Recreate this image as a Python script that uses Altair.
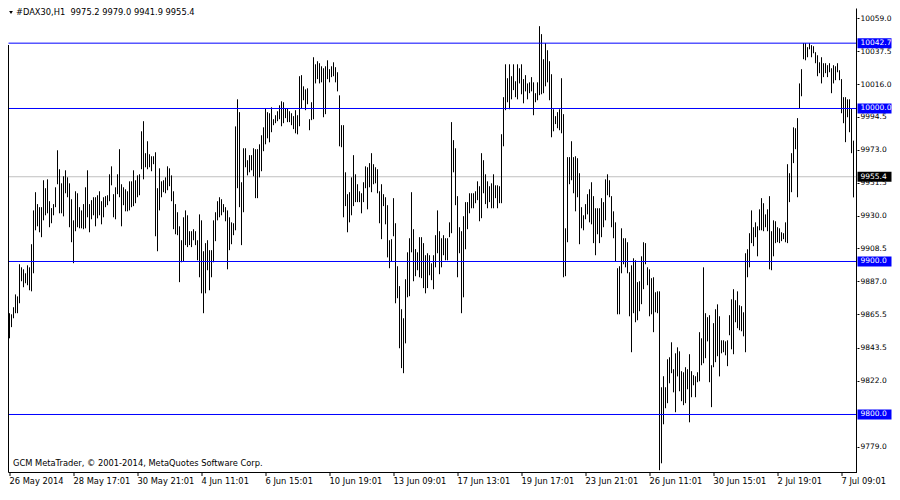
import altair as alt
import pandas as pd

# ---- data (DAX30 H1 bars: high / low) ----
highs = [
    9866.2, 9865.5, 9870.1, 9878.5, 9877.2, 9898.2, 9896.2, 9894.9, 9892.3, 9897.5,
    9896.2, 9911.3, 9933.4, 9945.3, 9937.5, 9935.5, 9935.5, 9953.1, 9947.9, 9953.7,
    9939.4, 9934.9, 9937.5, 9948.5, 9972.7, 9960.3, 9951.1, 9955.7, 9959.6, 9955.0,
    9951.1, 9940.7, 9926.9, 9945.9, 9944.6, 9935.5, 9933.4, 9937.5, 9948.5, 9959.6,
    9937.5, 9940.1, 9942.0, 9942.0, 9943.3, 9945.9, 9939.4, 9942.0, 9942.7, 9943.3,
    9957.0, 9962.2, 9944.0, 9948.5, 9957.0, 9973.4, 9950.5, 9948.5, 9947.2, 9945.9,
    9952.4, 9952.4, 9959.6, 9953.1, 9956.3, 9957.0, 9985.1, 9991.7, 9970.8, 9978.6,
    9970.1, 9968.8, 9968.8, 9971.4, 9947.9, 9960.9, 9952.4, 9953.1, 9955.0, 9962.2,
    9960.9, 9956.3, 9945.9, 9937.5, 9932.2, 9923.0, 9913.9, 9928.9, 9933.4, 9930.2,
    9919.8, 9919.8, 9921.1, 9919.8, 9913.9, 9930.8, 9926.9, 9906.7, 9912.0, 9913.9,
    9907.4, 9907.4, 9926.9, 9932.2, 9939.4, 9942.0, 9940.7, 9937.5, 9935.5, 9933.4,
    9928.9, 9925.6, 9925.0, 9988.3, 10006.0, 9997.6, 9951.8, 9974.0, 9974.0, 9966.2,
    9969.5, 9969.5, 9974.0, 9973.4, 9973.4, 9976.6, 9982.5, 9987.7, 10000.2, 9997.6,
    9996.9, 10000.8, 9993.0, 9995.6, 9998.2, 10002.1, 10004.7, 10004.1, 10000.2, 10000.2,
    9998.2, 9996.9, 9995.0, 9998.9, 9995.6, 10021.1, 10021.8, 10014.5, 10012.5, 10013.2,
    9993.0, 10004.1, 10033.5, 10028.9, 10030.9, 10029.6, 10027.6, 10026.3, 10027.6, 10031.5,
    10025.7, 10027.6, 10030.2, 10027.0, 10023.7, 10008.6, 9989.1, 9989.1, 9958.3, 9944.0,
    9945.3, 9955.0, 9969.5, 9957.0, 9950.5, 9945.9, 9944.6, 9951.8, 9962.2, 9961.6,
    9964.3, 9970.8, 9963.6, 9961.6, 9960.3, 9945.9, 9950.5, 9944.0, 9942.0, 9936.8,
    9913.9, 9914.6, 9941.4, 9925.0, 9896.9, 9883.9, 9868.8, 9862.9, 9888.4, 9906.0,
    9915.2, 9945.3, 9921.1, 9908.1, 9906.0, 9915.9, 9915.9, 9912.0, 9904.1, 9905.4,
    9904.1, 9898.8, 9904.1, 9917.2, 9933.4, 9919.8, 9915.2, 9917.2, 9915.2, 9915.2,
    9925.6, 9991.1, 9979.3, 9974.0, 9942.7, 9922.4, 9919.8, 9929.6, 9938.8, 9938.8,
    9944.6, 9944.6, 9944.6, 9945.9, 9952.4, 9949.2, 9970.8, 9966.2, 9957.0, 9952.4,
    9949.2, 9951.1, 9957.0, 9949.8, 9949.8, 9949.2, 9983.2, 10007.4, 10028.9, 10019.8,
    10028.9, 10021.1, 10028.9, 10017.8, 10028.9, 10026.3, 10028.9, 10019.2, 10021.8, 10016.4,
    10017.1, 10020.5, 10017.1, 10010.0, 10017.1, 10053.8, 10048.6, 10032.2, 10042.7, 10038.1,
    10030.9, 10022.4, 9999.5, 9995.0, 9997.6, 9999.5, 10019.8, 9996.3, 9921.7, 9968.2,
    9968.2, 9978.6, 9968.2, 9968.8, 9967.5, 9957.7, 9935.5, 9930.2, 9937.5, 9944.0,
    9947.2, 9951.8, 9942.7, 9934.8, 9934.8, 9934.8, 9941.4, 9938.8, 9953.7, 9957.0,
    9953.1, 9942.7, 9932.8, 9925.6, 9895.6, 9896.9, 9921.7, 9915.2, 9915.2, 9912.6,
    9893.0, 9897.5, 9902.1, 9900.8, 9886.5, 9887.1, 9903.4, 9912.6, 9912.0, 9896.2,
    9894.9, 9889.1, 9889.7, 9879.9, 9880.5, 9880.5, 9817.8, 9825.0, 9817.8, 9836.1,
    9837.4, 9847.2, 9829.6, 9840.0, 9843.9, 9841.3, 9828.3, 9827.6, 9830.9, 9829.6,
    9839.4, 9828.3, 9825.7, 9825.0, 9827.6, 9853.8, 9849.8, 9896.2, 9866.2, 9863.6,
    9864.9, 9832.2, 9859.7, 9868.8, 9872.0, 9864.2, 9848.5, 9848.5, 9847.8, 9848.5,
    9864.9, 9875.3, 9881.9, 9874.7, 9880.5, 9871.4, 9870.8, 9866.8, 9905.4, 9908.0,
    9918.5, 9933.4, 9922.4, 9925.6, 9923.0, 9934.1, 9941.4, 9938.1, 9930.8, 9934.1,
    9942.7, 9919.8, 9926.9, 9926.3, 9922.4, 9921.7, 9919.1, 9918.5, 9925.6, 9963.6,
    9957.7, 9970.8, 9987.7, 9987.1, 9993.7, 10016.4, 10025.7, 10042.7, 10042.7, 10040.1,
    10042.7, 10041.4, 10040.7, 10036.8, 10034.8, 10030.2, 10033.5, 10029.6, 10029.6, 10028.3,
    10029.6, 10026.3, 10028.3, 10027.6, 10029.6, 10025.0, 10019.2, 10007.4, 10007.4, 10006.0,
    10006.0, 10000.2, 9979.0,
]

lows = [
    9849.8, 9857.1, 9862.9, 9866.2, 9866.2, 9872.7, 9887.1, 9883.2, 9885.8, 9884.5,
    9881.2, 9880.5, 9892.3, 9920.4, 9923.0, 9919.1, 9915.9, 9926.9, 9930.2, 9931.5,
    9922.4, 9925.0, 9930.2, 9935.5, 9950.5, 9931.5, 9931.5, 9929.5, 9944.6, 9942.0,
    9922.4, 9912.6, 9898.9, 9919.8, 9922.4, 9921.7, 9921.7, 9921.1, 9921.7, 9928.9,
    9919.1, 9927.6, 9930.2, 9923.0, 9928.2, 9930.2, 9924.3, 9928.9, 9935.5, 9936.8,
    9939.4, 9949.8, 9928.9, 9927.6, 9944.0, 9942.0, 9923.0, 9936.8, 9932.8, 9932.8,
    9933.4, 9935.5, 9936.2, 9938.1, 9942.0, 9943.3, 9960.3, 9953.7, 9961.6, 9960.3,
    9961.6, 9959.0, 9963.6, 9916.5, 9906.7, 9933.4, 9942.0, 9945.3, 9944.6, 9946.6,
    9949.2, 9939.4, 9921.1, 9917.8, 9917.2, 9886.5, 9899.5, 9900.1, 9910.7, 9909.4,
    9910.7, 9909.4, 9913.9, 9910.7, 9900.8, 9889.7, 9879.2, 9866.2, 9879.2, 9894.3,
    9881.2, 9889.7, 9899.5, 9913.3, 9926.9, 9928.9, 9930.2, 9932.2, 9926.3, 9894.9,
    9907.4, 9911.3, 9917.2, 9920.4, 9947.9, 9935.5, 9910.7, 9932.2, 9961.6, 9956.3,
    9958.3, 9959.6, 9955.7, 9941.4, 9941.4, 9955.0, 9959.0, 9972.1, 9976.6, 9980.5,
    9977.9, 9984.5, 9989.1, 9990.4, 9991.7, 9993.0, 9988.4, 9990.4, 9993.7, 9991.1,
    9991.1, 9989.1, 9986.5, 9983.8, 9983.1, 9988.4, 10000.2, 10005.4, 9998.9, 10002.8,
    9985.8, 9992.4, 9993.0, 10016.4, 10019.2, 10016.4, 10017.1, 9994.3, 9996.3, 10019.2,
    10017.1, 10020.5, 10021.1, 10017.1, 10011.2, 9975.3, 9974.7, 9928.9, 9936.2, 9919.1,
    9925.6, 9930.2, 9936.2, 9938.8, 9938.8, 9938.8, 9931.5, 9938.8, 9947.9, 9934.1,
    9948.5, 9945.3, 9950.5, 9951.1, 9944.6, 9925.0, 9914.6, 9936.2, 9924.3, 9902.7,
    9895.6, 9900.1, 9916.5, 9872.7, 9876.0, 9843.3, 9830.3, 9827.0, 9846.5, 9876.6,
    9877.3, 9906.0, 9887.1, 9890.4, 9894.3, 9889.7, 9889.1, 9882.6, 9879.2, 9882.6,
    9891.0, 9887.8, 9881.9, 9896.2, 9905.4, 9891.7, 9896.2, 9904.1, 9900.8, 9900.8,
    9915.9, 9918.5, 9958.3, 9936.8, 9889.7, 9905.4, 9866.2, 9876.6, 9908.0, 9921.1,
    9931.5, 9934.8, 9934.8, 9938.1, 9940.1, 9926.3, 9928.3, 9944.6, 9937.5, 9934.8,
    9938.8, 9934.8, 9934.8, 9941.4, 9934.8, 9938.1, 9938.1, 9975.3, 9998.9, 10004.1,
    9999.5, 10006.0, 10012.0, 10007.4, 10006.0, 10016.4, 10009.3, 10003.4, 10011.2, 10006.0,
    10010.0, 10011.2, 9995.6, 10004.1, 10005.4, 10008.7, 10009.3, 10010.0, 10014.5, 10017.1,
    10005.4, 9981.2, 9985.1, 9989.8, 9987.1, 9985.8, 9983.8, 9889.7, 9890.4, 9912.6,
    9950.5, 9953.1, 9944.6, 9932.8, 9942.0, 9911.3, 9921.7, 9920.4, 9927.6, 9930.8,
    9925.6, 9924.3, 9912.0, 9904.1, 9917.8, 9912.0, 9915.9, 9922.4, 9926.9, 9943.3,
    9942.0, 9922.4, 9915.2, 9900.1, 9865.5, 9865.5, 9892.3, 9898.2, 9896.2, 9892.3,
    9864.2, 9840.7, 9866.2, 9860.3, 9861.6, 9867.5, 9872.1, 9881.9, 9898.2, 9884.5,
    9864.2, 9865.5, 9853.8, 9866.8, 9866.2, 9763.6, 9768.1, 9793.6, 9804.1, 9807.4,
    9820.4, 9827.0, 9814.5, 9801.5, 9824.9, 9815.2, 9808.7, 9806.1, 9807.4, 9816.5,
    9794.9, 9811.3, 9819.1, 9811.3, 9821.1, 9821.7, 9832.2, 9833.5, 9836.8, 9847.8,
    9821.1, 9804.8, 9830.9, 9834.2, 9838.1, 9824.9, 9840.0, 9840.7, 9838.7, 9831.6,
    9851.8, 9842.6, 9839.4, 9860.3, 9856.4, 9855.1, 9854.4, 9851.1, 9840.7, 9889.7,
    9896.2, 9912.0, 9910.0, 9915.9, 9903.4, 9920.4, 9920.4, 9919.8, 9922.4, 9919.8,
    9894.9, 9894.3, 9903.4, 9912.0, 9912.6, 9912.0, 9913.3, 9914.6, 9912.6, 9912.0,
    9938.8, 9945.3, 9964.3, 9973.4, 9942.0, 10000.2, 10008.0, 10032.2, 10031.5, 10033.5,
    10038.7, 10033.5, 10036.1, 10029.6, 10021.1, 10023.1, 10016.4, 10020.5, 10023.1, 10020.5,
    10023.7, 10010.0, 10016.4, 10018.5, 10023.7, 10018.5, 9996.9, 9990.4, 9978.0, 9994.3,
    9984.5, 9970.8, 9941.9,
]

x_tick_bars = [0, 32, 64, 96, 128, 160, 192, 224, 256, 288, 320, 352, 384, 416]
x_tick_labels = ["26 May 2014", "28 May 17:01", "30 May 21:01", "4 Jun 11:01",
                 "6 Jun 15:01", "10 Jun 19:01", "13 Jun 09:01", "17 Jun 13:01",
                 "19 Jun 17:01", "23 Jun 21:01", "26 Jun 11:01", "30 Jun 15:01",
                 "2 Jul 19:01", "7 Jul 09:01"]
y_ticks = [10059.0, 10037.5, 10016.0, 9994.5, 9973.0, 9951.5, 9930.0, 9908.5,
           9887.0, 9865.5, 9843.5, 9822.0, 9779.0]

level_prices = [10042.7, 10000.0, 9900.0, 9800.0]
level_labels = ["10042.7", "10000.0", "9900.0", "9800.0"]
bid_price = [9955.4]
bid_label = ["9955.4"]

title_text = "#DAX30,H1\u00a0 9975.2 9979.0 9941.9 9955.4"
copyright_text = "GCM MetaTrader, \u00a9 2001-2014, MetaQuotes Software Corp."

# ---- build ----
n = len(highs)
assert len(lows) == n, (len(highs), len(lows))
bars_df = pd.DataFrame({"i": list(range(n)), "high": highs, "low": lows})
levels_df = pd.DataFrame({"p": level_prices, "lab": level_labels})
bid_df = pd.DataFrame({"p": bid_price, "lab": bid_label})

W, H = 849, 464
PX_PER_PT = 1.53
Y_TOP = 10065.686
FONT = "DejaVu Sans"
XFS = 8.3
YFS = 7.5

# bar i sits at 2*i + 1.5 px inside the plot (crisp 1px lines)
xs = alt.Scale(domain=[-0.75, -0.75 + W / 2], nice=False, zero=False)
ys = alt.Scale(domain=[Y_TOP - H / PX_PER_PT, Y_TOP], nice=False, zero=False)

label_expr = "[" + ",".join("'" + s + "'" for s in x_tick_labels) + "][round(datum.value / 32)]"

x_axis = alt.Axis(values=x_tick_bars, labelExpr=label_expr, title=None, grid=False,
                  domain=False, ticks=True, tickSize=4, tickColor="black", tickWidth=1,
                  labelAlign="left", labelPadding=1, labelFont=FONT, labelFontSize=XFS,
                  labelColor="black", labelOverlap=False, labelFlush=False, translate=0)
y_axis = alt.Axis(orient="right", values=y_ticks, format=".1f", title=None, grid=False,
                  domain=False, ticks=True, tickSize=2, tickColor="black", tickWidth=1,
                  labelPadding=1, labelFont=FONT, labelFontSize=YFS, labelColor="black",
                  labelOverlap=False, labelFlush=False, labelBaseline="middle")


def Yp(field):
    return alt.Y(field, scale=ys, axis=y_axis)


bid_line = alt.Chart(bid_df).mark_rule(color="#C0C0C0", strokeWidth=1).encode(
    x=alt.value(0.5), x2=alt.value(W - 0.5), y=Yp("p:Q"))

bars = alt.Chart(bars_df).mark_rule(color="black", strokeWidth=1).encode(
    x=alt.X("i:Q", scale=xs, axis=x_axis),
    y=Yp("low:Q"),
    y2="high:Q",
)

level_lines = alt.Chart(levels_df).mark_rule(color="#0000FF", strokeWidth=1).encode(
    x=alt.value(0.5), x2=alt.value(W - 0.5), y=Yp("p:Q"))

BOX_X0, BOX_X1, TXT_X = W + 0.5, W + 34.5, W + 3.5

level_boxes = alt.Chart(levels_df).mark_rect(color="#0000FF", yOffset=-5, y2Offset=5).encode(
    x=alt.value(BOX_X0), x2=alt.value(BOX_X1), y=Yp("p:Q"), y2="p:Q")
level_text = alt.Chart(levels_df).mark_text(
    align="left", baseline="middle", color="white", font=FONT, fontSize=YFS).encode(
    x=alt.value(TXT_X), y=Yp("p:Q"), text="lab:N")

bid_box = alt.Chart(bid_df).mark_rect(color="black", yOffset=-5, y2Offset=5).encode(
    x=alt.value(BOX_X0), x2=alt.value(BOX_X1), y=Yp("p:Q"), y2="p:Q")
bid_text = alt.Chart(bid_df).mark_text(
    align="left", baseline="middle", color="white", font=FONT, fontSize=YFS).encode(
    x=alt.value(TXT_X), y=Yp("p:Q"), text="lab:N")

frame_left = alt.Chart(bid_df).mark_rule(color="black", strokeWidth=1).encode(
    x=alt.value(0.5), y=alt.value(37), y2=alt.value(H + 0.5))
frame_right = alt.Chart(bid_df).mark_rule(color="black", strokeWidth=1).encode(
    x=alt.value(W - 0.5), y=alt.value(0.5), y2=alt.value(H + 0.5))
frame_bottom = alt.Chart(bid_df).mark_rule(color="black", strokeWidth=1).encode(
    y=alt.value(H + 0.5), x=alt.value(0.5), x2=alt.value(W))

title_df = pd.DataFrame({"t": [title_text]})
tri = alt.Chart(title_df).mark_point(shape="triangle-down", filled=True, color="black",
                                     size=14, opacity=1).encode(
    x=alt.value(3), y=alt.value(4.5))
title = alt.Chart(title_df).mark_text(align="left", baseline="middle", font=FONT,
                                      fontSize=XFS, color="black").encode(
    x=alt.value(8), y=alt.value(5), text="t:N")

copy_df = pd.DataFrame({"t": [copyright_text]})
copyright = alt.Chart(copy_df).mark_text(align="left", baseline="middle", font=FONT,
                                         fontSize=XFS, color="black").encode(
    x=alt.value(5), y=alt.value(H - 8), text="t:N")

chart = alt.layer(
    bid_line, bars, level_lines, frame_left, frame_right, frame_bottom,
    level_boxes, level_text, bid_box, bid_text, tri, title, copyright,
).properties(
    width=W, height=H,
    padding={"left": 0, "top": 0, "right": 0, "bottom": 0},
    background="white",
).configure_view(stroke=None)

chart.save("out.html", embed_options={"renderer": "svg", "actions": False})
